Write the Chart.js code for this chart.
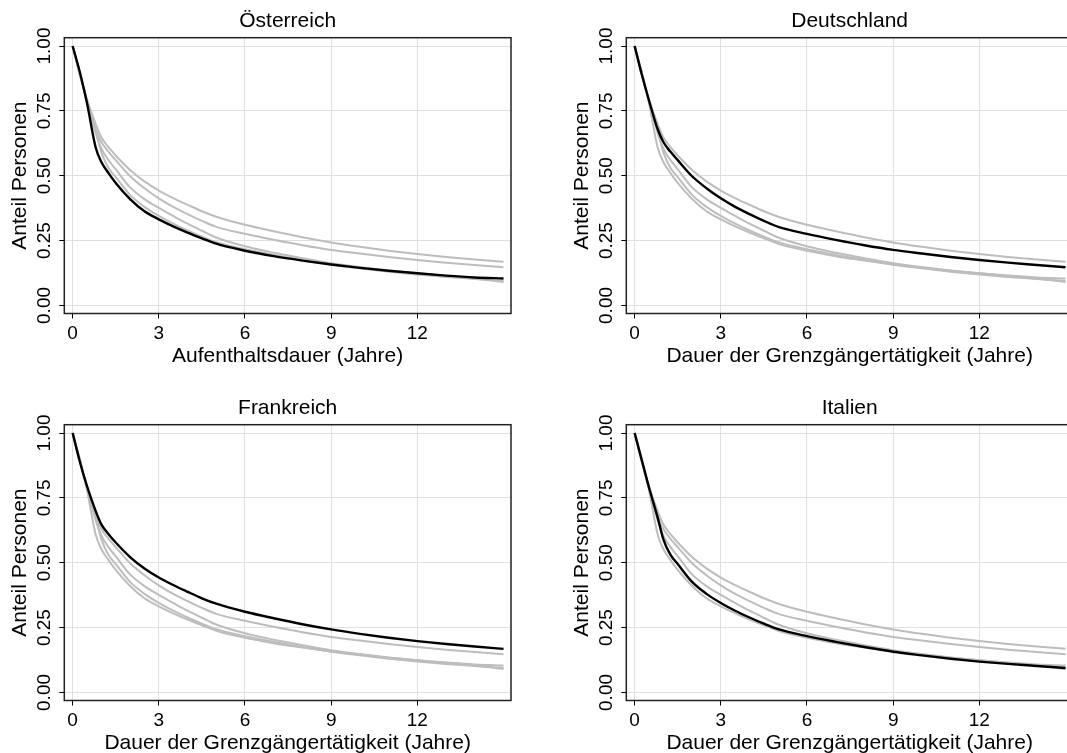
<!DOCTYPE html>
<html>
<head>
<meta charset="utf-8">
<script src="https://cdn.jsdelivr.net/npm/chart.js@4.4.1/dist/chart.umd.min.js"></script>
<style>
  html, body { margin: 0; padding: 0; background: #fff; }
  body { position: relative; width: 1067px; height: 753px; overflow: hidden; }
  .panel { position: absolute; width: 533px; height: 387px; }
</style>
</head>
<body>
<div class="panel" style="left:0px;top:0px"><canvas id="p0" width="533" height="387"></canvas></div>
<div class="panel" style="left:562px;top:0px"><canvas id="p1" width="533" height="387"></canvas></div>
<div class="panel" style="left:0px;top:387px"><canvas id="p2" width="533" height="387"></canvas></div>
<div class="panel" style="left:562px;top:387px"><canvas id="p3" width="533" height="387"></canvas></div>
<script>
// Zeitachse (Jahre) und Anteil verbleibender Personen je Gruppe
const years       = [0, 0.25, 0.5, 0.8, 1, 1.25, 1.5, 2, 2.5, 3, 3.5, 4, 4.5, 5, 6, 7, 8, 9, 10, 11, 12, 13, 14, 15];
const oesterreich = [1, 0.90, 0.78, 0.61, 0.553, 0.51, 0.472, 0.41, 0.363, 0.332, 0.305, 0.281, 0.259, 0.238, 0.211, 0.19, 0.173, 0.158, 0.145, 0.134, 0.124, 0.115, 0.108, 0.104];
const deutschland = [1, 0.89, 0.79, 0.68, 0.63, 0.592, 0.56, 0.498, 0.452, 0.413, 0.38, 0.352, 0.326, 0.303, 0.276, 0.253, 0.232, 0.214, 0.2, 0.187, 0.175, 0.165, 0.156, 0.147];
const frankreich  = [1, 0.89, 0.795, 0.70, 0.648, 0.61, 0.578, 0.522, 0.478, 0.443, 0.414, 0.388, 0.363, 0.342, 0.311, 0.286, 0.263, 0.243, 0.226, 0.211, 0.198, 0.187, 0.177, 0.168];
const italien     = [1, 0.895, 0.79, 0.675, 0.59, 0.53, 0.495, 0.426, 0.38, 0.345, 0.315, 0.289, 0.265, 0.244, 0.217, 0.195, 0.175, 0.157, 0.143, 0.13, 0.119, 0.11, 0.102, 0.094];
const weitere     = [1, 0.89, 0.785, 0.665, 0.605, 0.56, 0.525, 0.455, 0.41, 0.376, 0.345, 0.315, 0.288, 0.262, 0.228, 0.203, 0.182, 0.163, 0.148, 0.135, 0.124, 0.114, 0.104, 0.09];

const xTicks = [0, 3, 6, 9, 12];
const yTicks = [0, 0.25, 0.5, 0.75, 1];

const panelTitles = ['Österreich', 'Deutschland', 'Frankreich', 'Italien'];
const xTitles = [
  'Aufenthaltsdauer (Jahre)',
  'Dauer der Grenzgängertätigkeit (Jahre)',
  'Dauer der Grenzgängertätigkeit (Jahre)',
  'Dauer der Grenzgängertätigkeit (Jahre)'
];
const yTitle = 'Anteil Personen';

const series = [oesterreich, deutschland, frankreich, italien, weitere];

Chart.defaults.font.family = '"Liberation Sans", Arial, sans-serif';
Chart.defaults.color = '#000';

// Rahmen um die Plotfläche
const frame = {
  id: 'frame',
  afterDraw(chart) {
    const a = chart.chartArea, ctx = chart.ctx;
    ctx.save();
    ctx.strokeStyle = '#222';
    ctx.lineWidth = 1.5;
    ctx.strokeRect(a.left, a.top, a.right - a.left, a.bottom - a.top);
    ctx.restore();
  }
};

function toPoints(vals) {
  return years.map((t, i) => ({ x: t, y: vals[i] }));
}

function makePanel(idx) {
  const datasets = series.map((vals, s) => ({
    data: toPoints(vals),
    borderColor: s === idx ? '#000' : '#bdbdbd',
    borderWidth: s === idx ? 2.4 : 2,
    order: s === idx ? 0 : 1,
    showLine: true,
    pointRadius: 0,
    cubicInterpolationMode: 'monotone'
  }));

  new Chart(document.getElementById('p' + idx), {
    type: 'scatter',
    data: { datasets: datasets },
    plugins: [frame],
    options: {
      responsive: false,
      animation: false,
      events: [],
      layout: { padding: { left: 0, right: 22, top: 0, bottom: 0 } },
      plugins: {
        legend: { display: false },
        tooltip: { enabled: false },
        title: {
          display: true,
          text: panelTitles[idx],
          fullSize: false,
          color: '#000',
          font: { size: 21, weight: 'normal' },
          padding: { top: 9, bottom: 3.5 }
        }
      },
      scales: {
        x: {
          type: 'linear',
          min: -0.29,
          max: 15.26,
          afterBuildTicks: s => { s.ticks = xTicks.map(v => ({ value: v })); },
          afterFit: s => { s.height = 73.5; },
          border: { display: false },
          grid: { color: '#e0e0e0', lineWidth: 1, tickLength: 5, tickColor: '#000' },
          ticks: {
            color: '#000',
            font: { size: 19 },
            padding: 3.5,
            maxRotation: 0,
            minRotation: 0,
            callback: v => String(v)
          },
          title: {
            display: true,
            text: xTitles[idx],
            color: '#000',
            font: { size: 21 },
            padding: { top: 0, bottom: 18 }
          }
        },
        y: {
          type: 'linear',
          min: -0.031,
          max: 1.032,
          afterBuildTicks: s => { s.ticks = yTicks.map(v => ({ value: v })); },
          afterFit: s => { s.width = 64.3; },
          border: { display: false },
          grid: { color: '#e0e0e0', lineWidth: 1, tickLength: 5, tickColor: '#000' },
          ticks: {
            color: '#000',
            font: { size: 19 },
            padding: -3.5,
            minRotation: 90,
            maxRotation: 90,
            crossAlign: 'center',
            callback: v => v.toFixed(2)
          },
          title: {
            display: true,
            text: yTitle,
            color: '#000',
            font: { size: 21 },
            padding: { top: 8, bottom: 0 }
          }
        }
      }
    }
  });
}

[0, 1, 2, 3].forEach(makePanel);
</script>
</body>
</html>
